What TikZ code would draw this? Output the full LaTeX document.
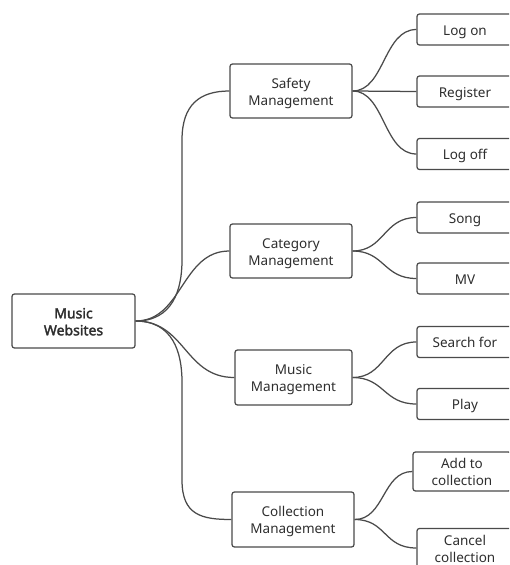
\documentclass[tikz,border=0pt]{standalone}
\usepackage{fontspec}
\setmainfont{Noto Sans}[AutoFakeBold=2.2]
\definecolor{ln}{HTML}{4A4A4A}
\definecolor{tx}{HTML}{2E2E2E}
\newcommand\twolines[2]{\begin{tabular}{@{}c@{}}\rule{0pt}{16.7pt}#1\\#2\end{tabular}}
\begin{document}
\begin{tikzpicture}[x=1pt,y=-1pt,
  box/.style={draw=ln, line width=1.25pt, rounded corners=2.5pt, text=tx, inner sep=0pt,
    font=\fontsize{13.5}{17}\selectfont},
  onel/.style={execute at begin node={\rule{0pt}{15pt}},
    execute at end node={\rule[-3.6pt]{0pt}{3.6pt}}},
  topbox/.style={box, minimum width=123pt, minimum height=54pt, font=\fontsize{14}{17}\selectfont\bfseries},
  midbox/.style={box, minimum width=122pt, minimum height=54pt},
  leafbox/.style={box, minimum width=96pt, minimum height=31pt},
  link/.style={draw=ln, line width=1.25pt}]
\useasboundingbox (0,0) rectangle (509,565);
\clip (0,0) rectangle (509,565);

\node[topbox] (root) at (73.5,321) {\twolines{Music}{Websites}};

\node[midbox] (safe) at (291,91) {\twolines{Safety}{Management}};
\node[midbox] (cat) at (291,251) {\twolines{Category}{Management}};
\node[midbox, minimum width=117pt, minimum height=55pt] (mus) at (293.5,377.5) {\twolines{Music}{Management}};
\node[midbox, minimum height=55pt] (col) at (293,519.5) {\twolines{Collection}{Management}};

\node[leafbox, onel] (logon) at (465,29.5) {Log on};
\node[leafbox, onel] (reg) at (465,91.5) {Register};
\node[leafbox, onel] (logoff) at (465,154) {Log off};
\node[leafbox, onel] (song) at (465,217.5) {Song};
\node[leafbox, onel] (mv) at (465,278.5) {MV};
\node[leafbox, onel] (search) at (465,342) {Search for};
\node[leafbox, onel] (play) at (465,404) {Play};
\node[leafbox, minimum width=98pt, minimum height=39pt] (add) at (462,471.5) {\twolines{Add to}{collection}};
\node[leafbox, minimum height=39pt] (cancel) at (465,548) {\twolines{Cancel}{collection}};

% root links
\draw[link] (root.east) .. controls +(37,0) and +(0,30) .. (182,260) -- (182,140) .. controls +(0,-35) and +(-30,0) .. (safe.west);
\draw[link] (root.east) .. controls +(47,0) and +(-48,0) .. (cat.west);
\draw[link] (root.east) .. controls +(50,0) and +(-50,0) .. (mus.west);
\draw[link] (root.east) .. controls +(37,0) and +(0,-30) .. (182,382) -- (182,480) .. controls +(0,35) and +(-30,0) .. (col.west);

% leaf links
\draw[link] (safe.east) .. controls +(32,0) and +(-33,0) .. (logon.west);
\draw[link] (safe.east) -- (reg.west);
\draw[link] (safe.east) .. controls +(32,0) and +(-33,0) .. (logoff.west);
\draw[link] (cat.east) .. controls +(32,0) and +(-33,0) .. (song.west);
\draw[link] (cat.east) .. controls +(32,0) and +(-33,0) .. (mv.west);
\draw[link] (mus.east) .. controls +(32,0) and +(-33,0) .. (search.west);
\draw[link] (mus.east) .. controls +(32,0) and +(-33,0) .. (play.west);
\draw[link] (col.east) .. controls +(30,0) and +(-30,0) .. (add.west);
\draw[link] (col.east) .. controls +(32,0) and +(-33,0) .. (cancel.west);
\end{tikzpicture}
\end{document}
